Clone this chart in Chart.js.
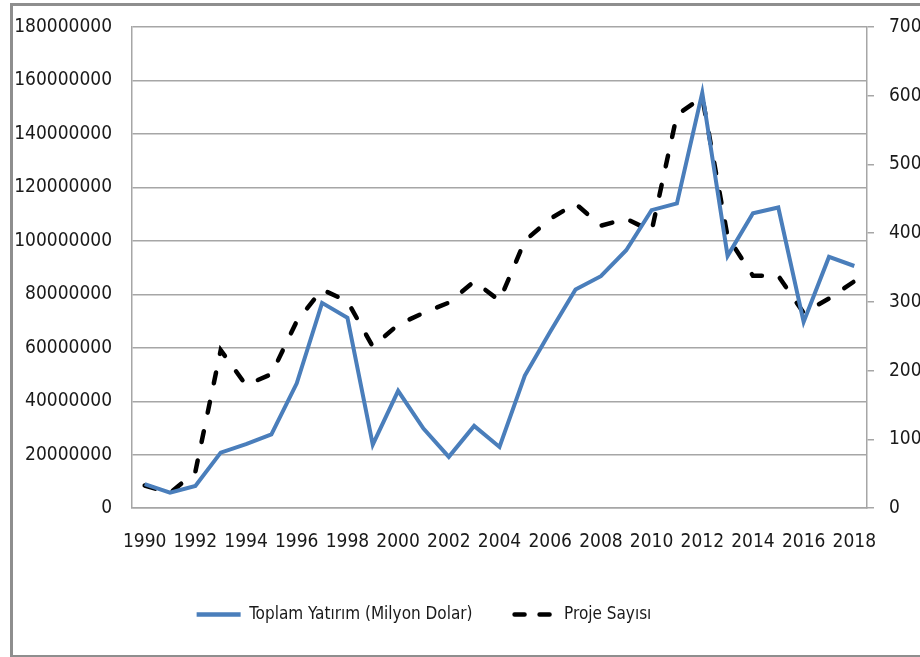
<!DOCTYPE html>
<html>
<head>
<meta charset="utf-8">
<script src="https://cdn.jsdelivr.net/npm/chart.js@4.4.1/dist/chart.umd.min.js"></script>
<style>
    body { margin: 0; background: #fff; overflow: hidden; }
    #wrap { position: relative; width: 920px; height: 657px; }
    #frame { position: absolute; left: 10px; top: 3px; width: 930px; height: 649px; border: 3px solid #8e8e8e; pointer-events: none; }
</style>
</head>
<body>
<div id="wrap">
    <canvas id="chart"></canvas>
    <div id="frame"></div>
</div>
<script>
const years = ['1990','1991','1992','1993','1994','1995','1996','1997','1998','1999','2000','2001','2002','2003','2004','2005','2006','2007','2008','2009','2010','2011','2012','2013','2014','2015','2016','2017','2018'];

// Toplam Yatırım (Milyon Dolar) - left axis
const investment = [9000000, 5800000, 8300000, 20800000, 24000000, 27600000, 46700000, 76800000, 71200000, 23800000, 43900000, 29800000, 19200000, 30800000, 22900000, 49600000, 66000000, 81800000, 86800000, 96500000, 111500000, 114000000, 155400000, 94400000, 110300000, 112500000, 69700000, 94000000, 90600000];

// Proje Sayısı - right axis
const projects = [33, 22, 53, 230, 179, 195, 272, 318, 301, 235, 267, 284, 299, 330, 302, 389, 421, 443, 411, 421, 403, 572, 598, 395, 338, 338, 284, 305, 330];

const fontFamily = "'DejaVu Sans Condensed', 'DejaVu Sans', sans-serif";
const gridColor = '#a6a6a6';
const textColor = '#1a1a1a';

// legend sits a bit left of the canvas centre in the original
const legendShift = {
    id: 'legendShift',
    afterLayout: function(chart) {
        if (chart.legend) {
            chart.legend.left -= 36;
            chart.legend.right -= 36;
        }
    }
};

function fixAxis(width) {
    return function(scale) {
        scale.width = width;
        scale.paddingTop = 0;
        scale.paddingBottom = 0;
    };
}

document.addEventListener('DOMContentLoaded', function() {
    const ctx = document.getElementById('chart').getContext('2d');
    new Chart(ctx, {
        type: 'line',
        data: {
            labels: years,
            datasets: [
                {
                    label: 'Toplam Yatırım (Milyon Dolar)',
                    data: investment,
                    yAxisID: 'y',
                    borderColor: '#4a7ebb',
                    backgroundColor: '#4a7ebb',
                    borderWidth: 4,
                    pointRadius: 0,
                    tension: 0,
                },
                {
                    label: 'Proje Sayısı',
                    data: projects,
                    yAxisID: 'y2',
                    borderColor: '#000000',
                    backgroundColor: '#000000',
                    borderWidth: 4.5,
                    borderDash: [11, 19],
                    borderCapStyle: 'round',
                    pointRadius: 0,
                    tension: 0,
                },
            ],
        },
        plugins: [legendShift],
        options: {
            responsive: true,
            maintainAspectRatio: false,
            animation: false,
            layout: { padding: { top: 27, left: 0, right: 0, bottom: 24 } },
            plugins: {
                tooltip: { enabled: false },
                legend: {
                    position: 'bottom',
                    labels: {
                        font: { family: fontFamily, size: 17 },
                        color: textColor,
                        usePointStyle: true,
                        pointStyle: 'line',
                        pointStyleWidth: 44,
                        padding: 39,
                        generateLabels: function(chart) {
                            const items = Chart.defaults.plugins.legend.labels.generateLabels(chart);
                            items.forEach(function(item, i) {
                                const ds = chart.data.datasets[i];
                                item.strokeStyle = ds.borderColor;
                                item.lineWidth = 4.5;
                                item.lineCap = ds.borderDash ? 'round' : 'butt';
                                item.lineDash = ds.borderDash ? [10, 15] : [];
                                item.lineDashOffset = ds.borderDash ? -3 : 0;
                            });
                            return items;
                        },
                    },
                },
            },
            scales: {
                x: {
                    offset: true,
                    grid: { display: false },
                    border: { display: true, color: gridColor, width: 1.5 },
                    ticks: {
                        autoSkip: false,
                        maxRotation: 0,
                        padding: 14,
                        color: textColor,
                        font: { family: fontFamily, size: 19 },
                        callback: function(val, idx) { return idx % 2 === 0 ? years[idx] : ''; },
                    },
                },
                y: {
                    position: 'left',
                    min: 0,
                    max: 180000000,
                    afterFit: fixAxis(132),
                    grid: { color: gridColor, lineWidth: 1.5, drawTicks: false },
                    border: { display: true, color: gridColor, width: 1.5 },
                    ticks: {
                        stepSize: 20000000,
                        padding: 20,
                        color: textColor,
                        font: { family: fontFamily, size: 19 },
                        callback: function(v) { return String(v); },
                    },
                },
                y2: {
                    position: 'right',
                    min: 0,
                    max: 700,
                    afterFit: fixAxis(53),
                    grid: { drawOnChartArea: false, color: gridColor, lineWidth: 1.5, tickLength: 7 },
                    border: { display: true, color: gridColor, width: 1.5 },
                    ticks: {
                        stepSize: 100,
                        padding: 15,
                        color: textColor,
                        font: { family: fontFamily, size: 19 },
                    },
                },
            },
        },
    });
});
</script>
</body>
</html>
